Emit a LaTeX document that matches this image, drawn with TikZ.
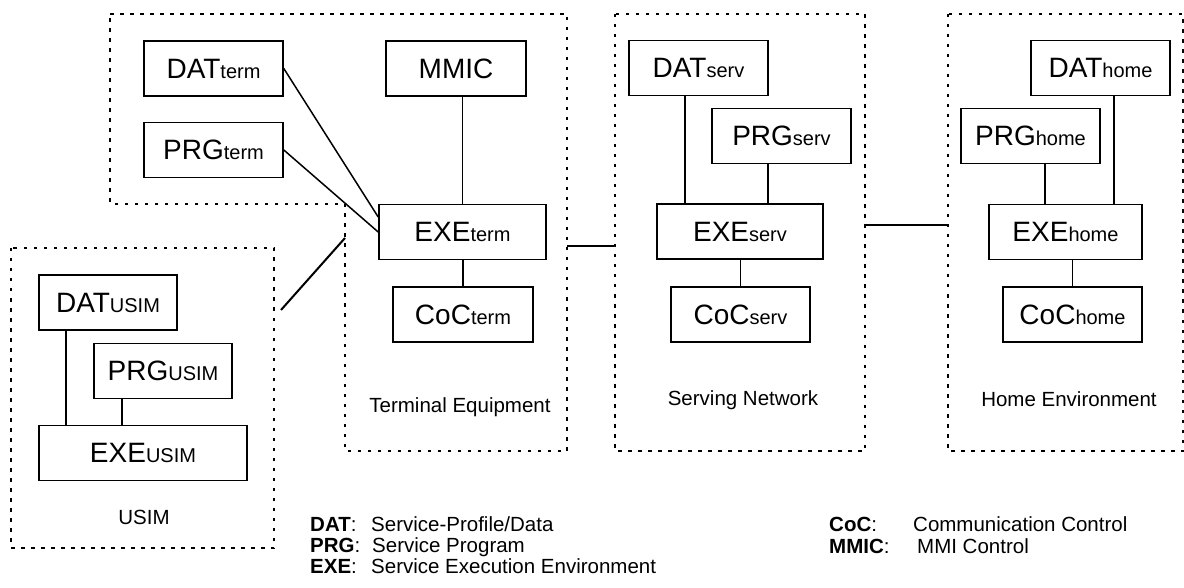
\documentclass[tikz,border=0pt]{standalone}
\usepackage{fontspec}
\setmainfont{Liberation Sans}
\newcommand\boxlbl[2]{{\fontsize{28}{30}\selectfont #1}{\fontsize{20}{22}\selectfont #2}}
\begin{document}
\begin{tikzpicture}[x=1pt,y=-1pt,
  region/.style={line width=1.8pt, dash pattern=on 3.5pt off 6.5pt},
  unit/.style={draw, line width=1.6pt, inner sep=0pt, minimum height=55pt, minimum width=139pt, font=\fontsize{28}{30}\selectfont},
  link/.style={line width=1.5pt},
  bridge/.style={line width=2pt},
  area/.style={font=\fontsize{20.5}{22}\selectfont},
  legend/.style={anchor=base west, inner sep=0pt, font=\fontsize{20.5}{22}\selectfont}]
\useasboundingbox (0,0) rectangle (1184,588);

% region borders
\draw[region] (110,14) -- (567,14) -- (567,451) -- (345,451) -- (345,204) -- (110,204) -- cycle;
\draw[region] (615,14) rectangle (865,451);
\draw[region] (948,14) rectangle (1183,451);
\draw[region] (11,248) rectangle (274,548);

% Terminal equipment
\node[unit] (datterm) at (213.5,68.5) {\boxlbl{DAT}{term}};
\node[unit] (prgterm) at (213.5,150) {\boxlbl{PRG}{term}};
\node[unit, minimum width=140pt] (mmic) at (456,68.5) {MMIC};
\node[unit, minimum width=167pt] (exeterm) at (462.5,232) {\boxlbl{EXE}{term}};
\node[unit, minimum width=140pt] (cocterm) at (463,314.5) {\boxlbl{CoC}{term}};
\node[area] (telabel) at (460,407) {Terminal Equipment};

\draw[link] (datterm.east) -- ([yshift=15pt]exeterm.west);
\draw[link] (prgterm.east) -- (exeterm.west);
\draw[link] (exeterm.north |- mmic.south) -- (exeterm.north);
\draw[link] (cocterm.north |- exeterm.south) -- (cocterm.north);

% Serving network
\node[unit] (datserv) at (698.5,68) {\boxlbl{DAT}{serv}};
\node[unit] (prgserv) at (781.5,136) {\boxlbl{PRG}{serv}};
\node[unit, minimum width=166pt] (exeserv) at (740,231.5) {\boxlbl{EXE}{serv}};
\node[unit] (cocserv) at (740.5,314.5) {\boxlbl{CoC}{serv}};
\node[area] (snlabel) at (743,400) {Serving Network};

\coordinate (ds) at ([xshift=-13.5pt]datserv.south);
\coordinate (ps) at ([xshift=-13.5pt]prgserv.south);
\draw[link] (ds) -- (ds |- exeserv.north);
\draw[link] (ps) -- (ps |- exeserv.north);
\draw[link] (cocserv.north |- exeserv.south) -- (cocserv.north);

% Home environment
\node[unit] (dathome) at (1100.5,68) {\boxlbl{DAT}{home}};
\node[unit] (prghome) at (1030.5,136) {\boxlbl{PRG}{home}};
\node[unit, minimum width=153pt] (exehome) at (1065.5,232) {\boxlbl{EXE}{home}};
\node[unit] (cochome) at (1072.5,314.5) {\boxlbl{CoC}{home}};
\node[area] (helabel) at (1069,399) {Home Environment};

\coordinate (dh) at ([xshift=13.5pt]dathome.south);
\coordinate (ph) at ([xshift=14.5pt]prghome.south);
\draw[link] (dh) -- (dh |- exehome.north);
\draw[link] (ph) -- (ph |- exehome.north);
\draw[link] (cochome.north |- exehome.south) -- (cochome.north);

% USIM
\node[unit, minimum width=138pt] (datusim) at (108,302.5) {\boxlbl{DAT}{USIM}};
\node[unit, minimum width=138pt] (prgusim) at (163,371) {\boxlbl{PRG}{USIM}};
\node[unit, minimum width=208pt] (exeusim) at (143,453) {\boxlbl{EXE}{USIM}};
\node[area] (usimlabel) at (144,517) {USIM};

\coordinate (du) at ([xshift=-42pt]datusim.south);
\coordinate (pu) at ([xshift=-41pt]prgusim.south);
\draw[link] (du) -- (du |- exeusim.north);
\draw[link] (pu) -- (pu |- exeusim.north);

% links between domains
\coordinate (usimend) at (281,310);
\coordinate (teusim) at (345,238);
\coordinate (teright) at (567,246);
\coordinate (snleft) at (615,246);
\coordinate (snright) at (865,225);
\coordinate (heleft) at (948,225);
\draw[bridge] (usimend) -- (teusim);
\draw[bridge] (teright) -- (snleft);
\draw[bridge] (snright) -- (heleft);

% legend
\node[legend] (kdat) at (310,531) {\textbf{DAT}:};
\node[legend] (ddat) at (371,531) {Service-Profile/Data};
\node[legend] (kprg) at (310,552) {\textbf{PRG}:};
\node[legend] (dprg) at (372,552) {Service Program};
\node[legend] (kexe) at (310,573) {\textbf{EXE}:};
\node[legend] (dexe) at (371,573) {Service Execution Environment};
\node[legend] (kcoc) at (829,531) {\textbf{CoC}:};
\node[legend] (dcoc) at (913,531) {Communication Control};
\node[legend] (kmmic) at (829,553) {\textbf{MMIC}:};
\node[legend] (dmmic) at (917,553) {MMI Control};
\end{tikzpicture}
\end{document}
